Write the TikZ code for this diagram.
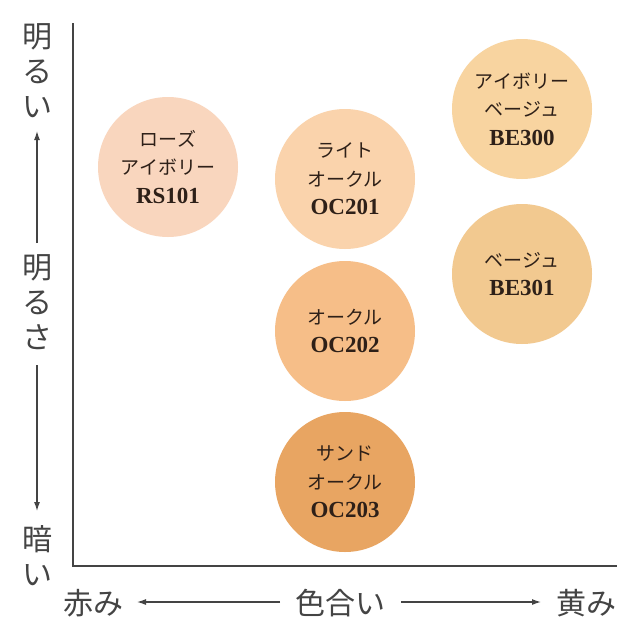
\documentclass[tikz,border=0pt]{standalone}
\usepackage{fontspec}
\usepackage{xcolor}
\setmainfont{Liberation Serif}
\newfontfamily\jp{Noto Sans CJK JP}
\usetikzlibrary{arrows.meta}

\definecolor{axisgray}{HTML}{444444}
\definecolor{inkbrown}{HTML}{2E2018}
\definecolor{rsivory}{HTML}{F9D6BE}
\definecolor{lightoc}{HTML}{FAD3AC}
\definecolor{ochre}{HTML}{F6BE88}
\definecolor{sandoc}{HTML}{E8A562}
\definecolor{ivorybe}{HTML}{F8D4A0}
\definecolor{beige}{HTML}{F2C990}

% kana line and product code inside a shade
\newcommand{\kana}[1]{{\jp\fontsize{19}{28.5}\selectfont #1}}
\newcommand{\code}[1]{{\bfseries\fontsize{23}{28.5}\selectfont #1}}

\tikzset{
  shade/.style={circle, fill=#1, draw=none, minimum size=140pt, inner sep=0pt,
    align=center, text=inkbrown, font=\fontsize{21}{28.5}\selectfont},
  axislabel/.style={inner sep=0pt, align=center, text=axisgray,
    font=\jp\fontsize{30}{35}\selectfont},
  arr/.style={axisgray, line width=1.2pt, -{Latex[length=9pt,width=6pt]}}
}

\begin{document}
\begin{tikzpicture}[x=1pt, y=-1pt]
  % page size
  \useasboundingbox (0,0) rectangle (640,640);
  \fill[white] (0,0) rectangle (640,640);

  % frame of the chart
  \coordinate (top) at (73,23);
  \coordinate (origin) at (73,566);
  \coordinate (right) at (617,566);
  \draw[axisgray, line width=2pt] (top) -- (origin) -- (right);

  % shades
  \node[shade=rsivory] (rs101) at (168,167) {\kana{ローズ}\\\kana{アイボリー}\\\code{RS101}};
  \node[shade=lightoc] (oc201) at (345,179) {\kana{ライト}\\\kana{オークル}\\\code{OC201}};
  \node[shade=ochre] (oc202) at (345,331) {\kana{オークル}\\\code{OC202}};
  \node[shade=sandoc] (oc203) at (345,482) {\kana{サンド}\\\kana{オークル}\\\code{OC203}};
  \node[shade=ivorybe] (be300) at (522,109) {\kana{アイボリー}\\\kana{ベージュ}\\\code{BE300}};
  \node[shade=beige] (be301) at (522,274) {\kana{ベージュ}\\\code{BE301}};

  % vertical axis: brightness
  \node[axislabel] (bright) at (37,71) {明\\る\\い};
  \node[axislabel] (brightness) at (37,302) {明\\る\\さ};
  \node[axislabel] (dark) at (37,556) {暗\\い};
  \coordinate (upstart) at (37,243);
  \coordinate (upend) at (37,131);
  \coordinate (downstart) at (37,365);
  \coordinate (downend) at (37,511);
  \draw[arr] (upstart) -- (upend);
  \draw[arr] (downstart) -- (downend);

  % horizontal axis: hue
  \node[axislabel] (red) at (93,603) {赤み};
  \node[axislabel] (hue) at (340,603) {色合い};
  \node[axislabel] (yellow) at (586,603) {黄み};
  \coordinate (leftstart) at (280,602);
  \coordinate (leftend) at (137,602);
  \coordinate (rightstart) at (401,602);
  \coordinate (rightend) at (541,602);
  \draw[arr] (leftstart) -- (leftend);
  \draw[arr] (rightstart) -- (rightend);
\end{tikzpicture}
\end{document}
